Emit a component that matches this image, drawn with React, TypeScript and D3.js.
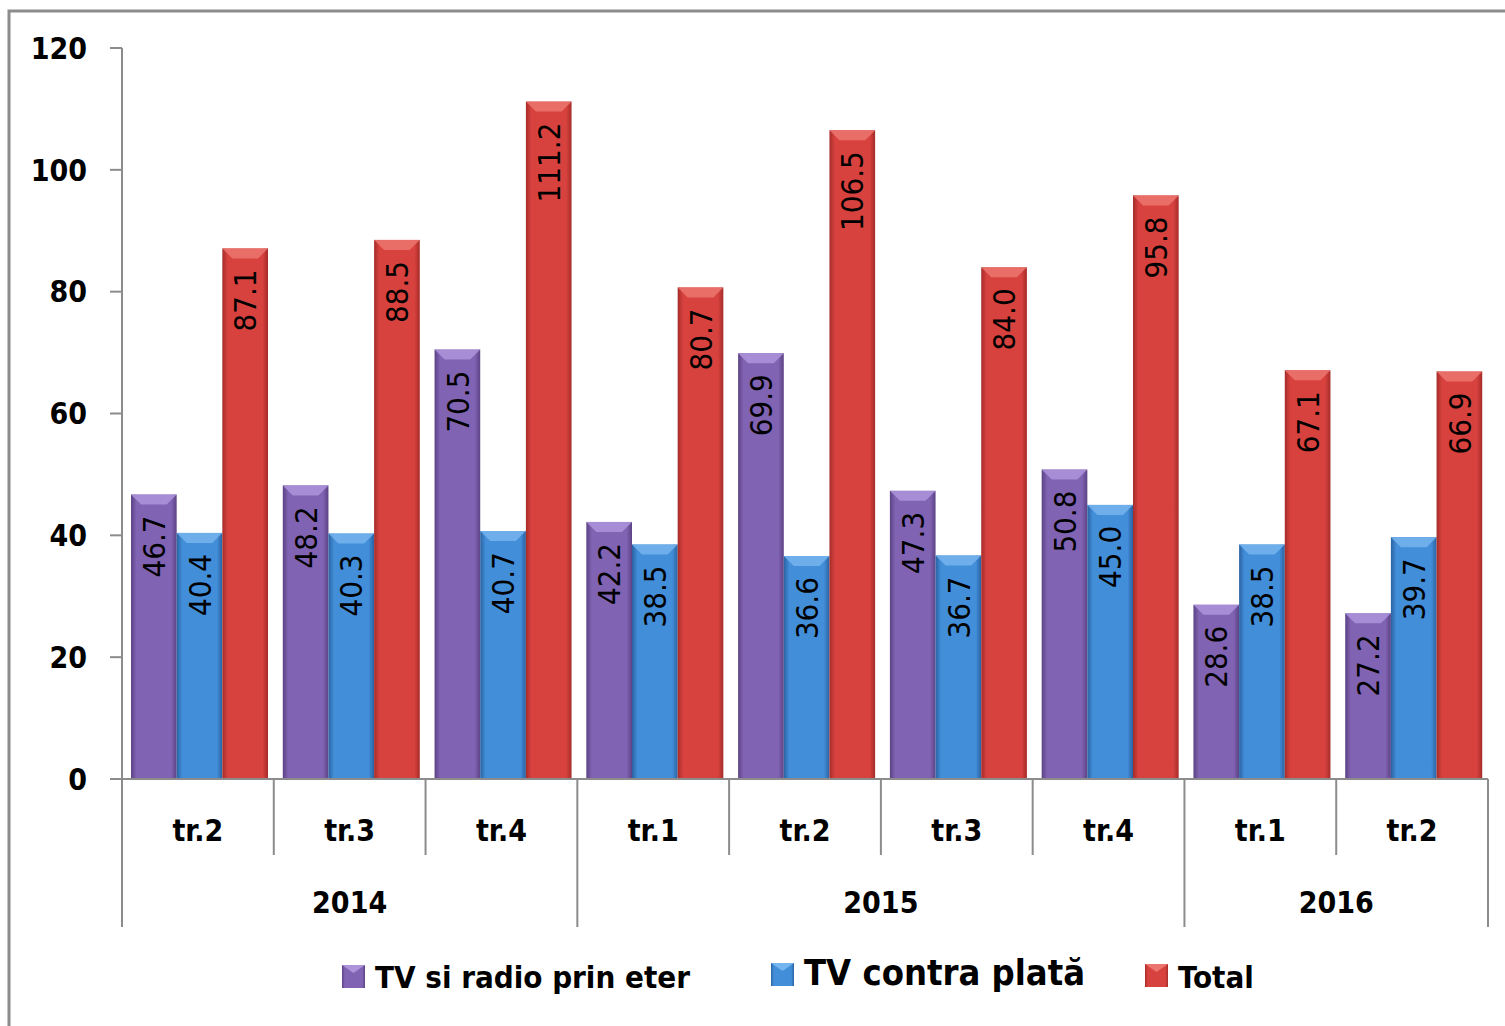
import * as d3 from "d3";

const quarters = ["tr.2", "tr.3", "tr.4", "tr.1", "tr.2", "tr.3", "tr.4", "tr.1", "tr.2"];
const years = ["2014", "2015", "2016"];
const yearSpans = [3, 4, 2];
const eter = [46.7, 48.2, 70.5, 42.2, 69.9, 47.3, 50.8, 28.6, 27.2];
const plata = [40.4, 40.3, 40.7, 38.5, 36.6, 36.7, 45.0, 38.5, 39.7];
const total = [87.1, 88.5, 111.2, 80.7, 106.5, 84.0, 95.8, 67.1, 66.9];
const seriesNames = ["TV si radio prin eter", "TV contra plată", "Total"];
const yTicks = [0, 20, 40, 60, 80, 100, 120];

const W = 1505;
const H = 1026;
const FONT = "'DejaVu Sans Condensed', 'DejaVu Sans', sans-serif";

// dark edge, light middle, light top bevel
const palette = [
  { dark: "#5c4285", mid: "#8063b2", top: "#ad94da" },
  { dark: "#2a62a2", mid: "#428ed8", top: "#74b4ef" },
  { dark: "#a52c29", mid: "#d8423e", top: "#ec7570" },
];

export default function App() {
  const series = [eter, plata, total];
  const x0 = d3.scaleBand<number>().domain(d3.range(quarters.length)).range([122, 1488]);
  const x1 = d3.scaleBand<number>().domain([0, 1, 2]).range([9, 146]);
  const y = d3.scaleLinear().domain([0, 120]).range([779, 48]);
  const bw = x1.bandwidth();

  // boundaries between year groups
  const yearStarts = d3.cumsum([0, ...yearSpans]);

  return (
    <svg width={W} height={H} style={{ position: "absolute", left: 0, top: 0, background: "#fff" }}>
      <defs>
        {palette.map((p, i) => (
          <linearGradient key={i} id={`g${i}`} x1="0" x2="1" y1="0" y2="0">
            <stop offset="0" stopColor={p.dark} />
            <stop offset="0.12" stopColor={p.mid} />
            <stop offset="0.5" stopColor={p.mid} />
            <stop offset="0.88" stopColor={p.mid} />
            <stop offset="1" stopColor={p.dark} />
          </linearGradient>
        ))}
      </defs>
      <rect x={9} y={11} width={W + 20} height={H + 20} fill="none" stroke="#8c8c8c" strokeWidth={3} />

      {/* bars */}
      {series.map((vals, s) =>
        vals.map((v, i) => {
          const bx = (x0(i) as number) + (x1(s) as number);
          const by = y(v);
          const bh = y(0) - by;
          const bev = 10;
          return (
            <g key={`${s}-${i}`}>
              <rect x={bx} y={by} width={bw} height={bh} fill={`url(#g${s})`} />
              <polygon
                points={`${bx},${by} ${bx + bw},${by} ${bx + bw - bev},${by + bev} ${bx + bev},${by + bev}`}
                fill={palette[s].top}
                opacity={0.85}
              />
              <text
                transform={`translate(${bx + bw / 2},${by + 21}) rotate(-90)`}
                textAnchor="end"
                dy="0.36em"
                fontFamily={FONT}
                fontSize={31}
                fill="#000"
              >
                {v.toFixed(1)}
              </text>
            </g>
          );
        })
      )}

      {/* y axis */}
      <line x1={122} x2={122} y1={y(120)} y2={y(0)} stroke="#8c8c8c" strokeWidth={2} />
      {yTicks.map((t) => (
        <g key={t}>
          <line x1={110} x2={122} y1={y(t)} y2={y(t)} stroke="#8c8c8c" strokeWidth={2} />
          <text x={87} y={y(t)} dy="0.36em" textAnchor="end" fontFamily={FONT} fontWeight="bold" fontSize={30}>
            {t}
          </text>
        </g>
      ))}

      {/* x axis */}
      <line x1={110} x2={1488} y1={y(0)} y2={y(0)} stroke="#8c8c8c" strokeWidth={2} />
      {d3.range(quarters.length + 1).map((k) => {
        const xx = k < quarters.length ? (x0(k) as number) : 1488;
        const isYear = yearStarts.includes(k);
        return (
          <line key={k} x1={xx} x2={xx} y1={y(0)} y2={isYear ? 927 : 855} stroke="#8c8c8c" strokeWidth={2} />
        );
      })}
      {quarters.map((q, i) => (
        <text
          key={i}
          x={(x0(i) as number) + x0.bandwidth() / 2}
          y={841}
          textAnchor="middle"
          fontFamily={FONT}
          fontWeight="bold"
          fontSize={30}
        >
          {q}
        </text>
      ))}
      {years.map((yr, j) => {
        const a = x0(yearStarts[j]) as number;
        const b = yearStarts[j + 1] < quarters.length ? (x0(yearStarts[j + 1]) as number) : 1488;
        return (
          <text key={yr} x={(a + b) / 2} y={913} textAnchor="middle" fontFamily={FONT} fontWeight="bold" fontSize={30}>
            {yr}
          </text>
        );
      })}

      {/* legend */}
      {[
        { x: 342, y: 965, size: 31, tx: 375, ty: 988 },
        { x: 771, y: 963, size: 36, tx: 804, ty: 985 },
        { x: 1145, y: 964, size: 31, tx: 1178, ty: 988 },
      ].map((l, s) => (
        <g key={s}>
          <rect x={l.x} y={l.y} width={23} height={23} fill={`url(#g${s})`} />
          <polygon
            points={`${l.x},${l.y} ${l.x + 23},${l.y} ${l.x + 11.5},${l.y + 8}`}
            fill={palette[s].top}
          />
          <text x={l.tx} y={l.ty} fontFamily={FONT} fontWeight="bold" fontSize={l.size}>
            {seriesNames[s]}
          </text>
        </g>
      ))}
    </svg>
  );
}
